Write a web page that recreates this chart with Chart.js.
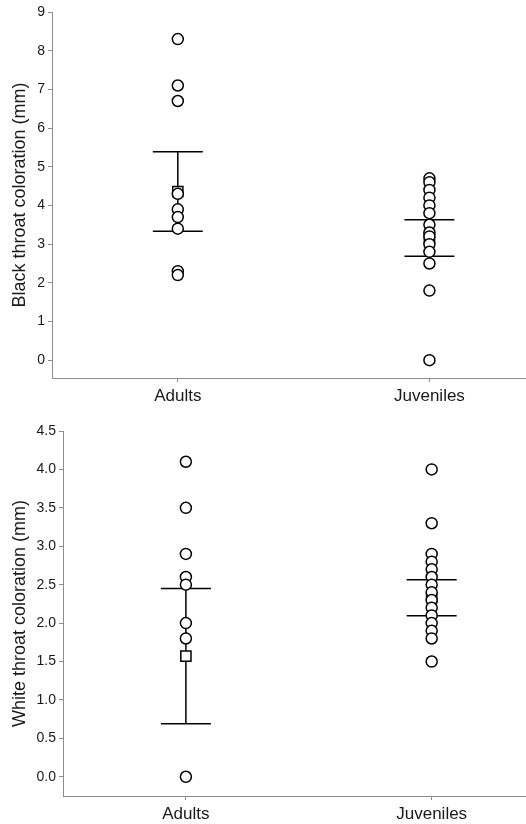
<!DOCTYPE html>
<html>
<head>
<meta charset="utf-8">
<title>Throat coloration</title>
<script src="https://cdn.jsdelivr.net/npm/chart.js@4.4.1/dist/chart.umd.min.js"></script>
<style>
    html, body { margin: 0; padding: 0; background: #fff; overflow: hidden; }
    .panel { position: absolute; left: 0; width: 526px; height: 412px; overflow: hidden; }
    #top { top: 0; }
    #bottom { top: 412px; }
</style>
</head>
<body>
<div class="panel" id="top"><canvas id="blackChart" width="535" height="412"></canvas></div>
<div class="panel" id="bottom"><canvas id="whiteChart" width="535" height="412"></canvas></div>
<script>
const groups = ['Adults', 'Juveniles'];

// Black throat coloration (mm)
const blackAdults = [8.3, 7.1, 6.7, 4.3, 3.9, 3.7, 3.4, 2.3, 2.2];
const blackJuveniles = [4.7, 4.6, 4.4, 4.2, 4.0, 3.8, 3.5, 3.3, 3.2, 3.0, 2.8, 2.5, 1.8, 0.0];
const blackMeans = [4.36, 3.16];
const blackErrs = [1.03, 0.47];
const blackTicks = [0, 1, 2, 3, 4, 5, 6, 7, 8, 9];

// White throat coloration (mm)
const whiteAdults = [4.1, 3.5, 2.9, 2.6, 2.5, 2.0, 1.8, 0.0];
const whiteJuveniles = [4.0, 3.3, 2.9, 2.8, 2.7, 2.6, 2.5, 2.4, 2.3, 2.2, 2.1, 2.0, 1.9, 1.8, 1.5];
const whiteMeans = [1.57, 2.33];
const whiteErrs = [0.88, 0.235];
const whiteTicks = [0, 0.5, 1.0, 1.5, 2.0, 2.5, 3.0, 3.5, 4.0, 4.5];

const AXIS_GREY = '#8c8c8c';
const TEXT = '#1a1a1a';
const FONT = 'Liberation Sans, Arial, sans-serif';

function toPoints(groupIndex, values) {
    return values.map(v => ({ x: groupIndex, y: v }));
}

// mean +/- error drawn behind the points
function errorBarPlugin(means, errs) {
    return {
        id: 'errorBars',
        beforeDatasetsDraw(chart) {
            const { ctx, scales: { x, y } } = chart;
            ctx.save();
            ctx.strokeStyle = '#000';
            ctx.lineWidth = 1.5;
            means.forEach((m, i) => {
                const px = x.getPixelForValue(i);
                const hi = y.getPixelForValue(m + errs[i]);
                const lo = y.getPixelForValue(m - errs[i]);
                ctx.beginPath();
                ctx.moveTo(px, hi);
                ctx.lineTo(px, lo);
                ctx.moveTo(px - 25, hi);
                ctx.lineTo(px + 25, hi);
                ctx.moveTo(px - 25, lo);
                ctx.lineTo(px + 25, lo);
                ctx.stroke();
            });
            ctx.restore();
        }
    };
}

function makeChart(canvasId, cfg) {
    const ctx = document.getElementById(canvasId).getContext('2d');
    const pointStyle = {
        pointStyle: 'circle',
        pointRadius: 5.5,
        pointBorderWidth: 1.5,
        pointBorderColor: '#000',
        pointBackgroundColor: '#fff',
        showLine: false
    };
    return new Chart(ctx, {
        type: 'scatter',
        data: {
            datasets: [
                Object.assign({ label: groups[0], data: toPoints(0, cfg.adults), order: 0 }, pointStyle),
                Object.assign({ label: groups[1], data: toPoints(1, cfg.juveniles), order: 0 }, pointStyle),
                {
                    label: 'Mean',
                    data: cfg.means.map((m, i) => ({ x: i, y: m })),
                    pointStyle: 'rect',
                    pointRadius: 7.2,
                    pointBorderWidth: 1.5,
                    pointBorderColor: '#000',
                    pointBackgroundColor: '#fff',
                    order: 1
                }
            ]
        },
        options: {
            responsive: false,
            animation: false,
            devicePixelRatio: 1,
            layout: { padding: { top: cfg.padTop, right: 0, left: 0, bottom: 0 } },
            plugins: {
                legend: { display: false },
                tooltip: { enabled: false }
            },
            scales: {
                x: {
                    type: 'linear',
                    min: -0.5,
                    max: 1.385,
                    afterBuildTicks: scale => { scale.ticks = [{ value: 0 }, { value: 1 }]; },
                    afterFit: scale => { scale.height = cfg.xHeight; },
                    grid: { display: true, drawOnChartArea: false, color: AXIS_GREY, tickLength: 4 },
                    border: { color: AXIS_GREY, width: 1 },
                    ticks: {
                        padding: 4,
                        color: TEXT,
                        font: { family: FONT, size: 17 },
                        callback: v => groups[v]
                    }
                },
                y: {
                    min: cfg.yMin,
                    max: cfg.yMax,
                    afterBuildTicks: scale => { scale.ticks = cfg.ticks.map(v => ({ value: v })); },
                    afterFit: scale => { scale.width = cfg.yWidth; },
                    grid: { display: true, drawOnChartArea: false, color: AXIS_GREY, tickLength: 4 },
                    border: { color: AXIS_GREY, width: 1 },
                    ticks: {
                        padding: 3,
                        color: TEXT,
                        font: { family: FONT, size: 14 },
                        callback: cfg.format
                    },
                    title: {
                        display: true,
                        text: cfg.title,
                        color: TEXT,
                        font: { family: FONT, size: 18 },
                        padding: { top: 9, bottom: 0 }
                    }
                }
            }
        },
        plugins: [errorBarPlugin(cfg.means, cfg.errs)]
    });
}

document.addEventListener('DOMContentLoaded', function() {
    makeChart('blackChart', {
        adults: blackAdults,
        juveniles: blackJuveniles,
        means: blackMeans,
        errs: blackErrs,
        ticks: blackTicks,
        yMin: -0.46,
        yMax: 9,
        yWidth: 52,
        xHeight: 34,
        padTop: 12,
        title: 'Black throat coloration (mm)',
        format: v => String(v)
    });

    makeChart('whiteChart', {
        adults: whiteAdults,
        juveniles: whiteJuveniles,
        means: whiteMeans,
        errs: whiteErrs,
        ticks: whiteTicks,
        yMin: -0.25,
        yMax: 4.5,
        yWidth: 63,
        xHeight: 28,
        padTop: 19,
        title: 'White throat coloration (mm)',
        format: v => v.toFixed(1)
    });
});
</script>
</body>
</html>
